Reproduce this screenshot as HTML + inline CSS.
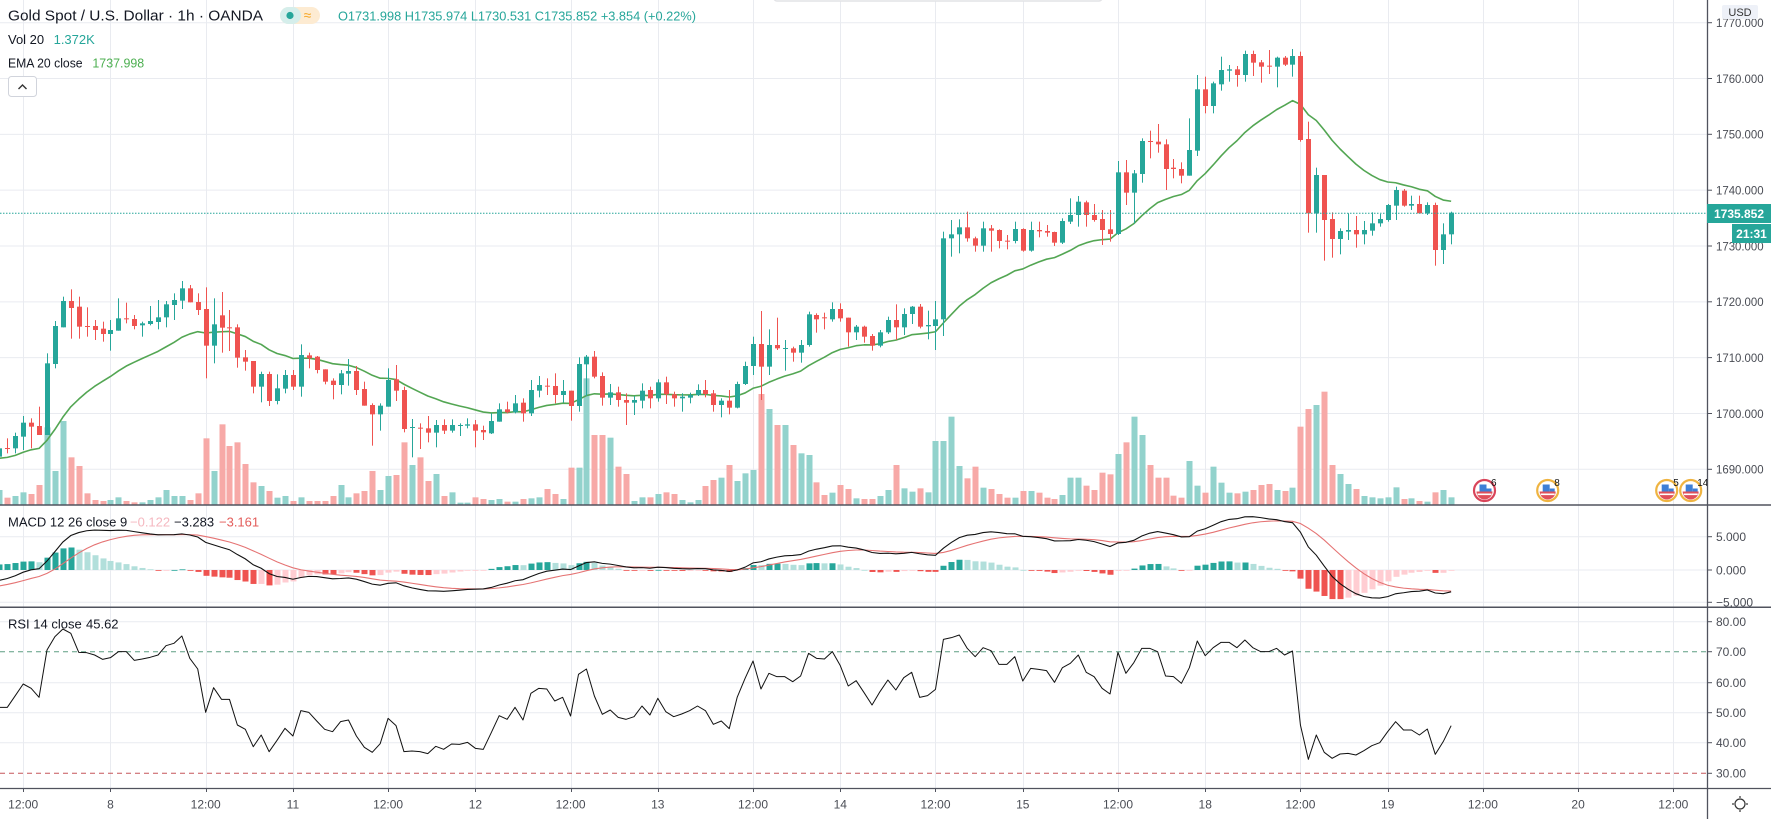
<!DOCTYPE html>
<html><head><meta charset="utf-8">
<style>
html,body{margin:0;padding:0;background:#fff;overflow:hidden;width:1771px;height:819px;}
svg{display:block;}
text{font-family:"Liberation Sans",Arial,sans-serif;}
</style></head>
<body>
<svg id="c" width="1771" height="819" viewBox="0 0 1771 819" xmlns="http://www.w3.org/2000/svg">
<defs>
<clipPath id="cm"><rect x="0" y="0" width="1707" height="505"/></clipPath>
<clipPath id="cd"><rect x="0" y="505" width="1707" height="102"/></clipPath>
<clipPath id="cr"><rect x="0" y="607" width="1707" height="181"/></clipPath>
</defs>
<rect x="0" y="0" width="1771" height="819" fill="#fff"/>
<g id="grid"></g>
<line x1="0" y1="651.7" x2="1707" y2="651.7" stroke="#5d9e82" stroke-width="1" stroke-dasharray="5,4"/>
<line x1="0" y1="773.3" x2="1707" y2="773.3" stroke="#c5565a" stroke-width="1" stroke-dasharray="5,4"/>
<g id="vol" clip-path="url(#cm)"></g>
<g id="ema" clip-path="url(#cm)"></g>
<g id="cnd" clip-path="url(#cm)"></g>
<g id="macd" clip-path="url(#cd)"></g>
<g id="rsi" clip-path="url(#cr)"></g>
<line x1="0" y1="213.3" x2="1707" y2="213.3" stroke="#26a69a" stroke-width="1" stroke-dasharray="1.5,1.5"/>

<!-- popup edge at top -->
<rect x="774" y="-12" width="328" height="13" fill="#fff" stroke="#e2e3e6" stroke-width="1.5" rx="3"/>

<!-- legends -->
<text x="8" y="20.5" font-size="15" fill="#131722" textLength="255" lengthAdjust="spacingAndGlyphs">Gold Spot / U.S. Dollar · 1h · OANDA</text>
<rect x="280" y="7" width="40" height="17" rx="8.5" fill="#fdebd2"/>
<rect x="280" y="7" width="21" height="17" rx="8.5" fill="#d5eeeb"/>
<circle cx="290" cy="15.5" r="3.6" fill="#26a69a"/>
<text x="307.5" y="20" font-size="14" fill="#f5a623" text-anchor="middle">≈</text>
<text x="338" y="20.5" font-size="13" fill="#26a69a" textLength="358" lengthAdjust="spacingAndGlyphs">O1731.998 H1735.974 L1730.531 C1735.852 +3.854 (+0.22%)</text>
<text x="8" y="44" font-size="13" fill="#131722">Vol 20</text>
<text x="53.6" y="44" font-size="13" fill="#26a69a">1.372K</text>
<text x="8" y="67.4" font-size="13" fill="#131722" textLength="74.6" lengthAdjust="spacingAndGlyphs">EMA 20 close</text>
<text x="92.4" y="67.4" font-size="13" fill="#4caf50" textLength="51.8" lengthAdjust="spacingAndGlyphs">1737.998</text>
<rect x="8.5" y="76.5" width="28" height="20" rx="3" fill="#fff" stroke="#d1d4dc"/>
<path d="M18.5,89 L22.5,85 L26.5,89" fill="none" stroke="#333" stroke-width="1.4"/>

<text x="8" y="526.5" font-size="13" fill="#131722">MACD 12 26 close 9</text>
<text x="130" y="526.5" font-size="13" fill="#f5b8c0">−0.122</text>
<text x="174" y="526.5" font-size="13" fill="#131722">−3.283</text>
<text x="219" y="526.5" font-size="13" fill="#e35d5b">−3.161</text>
<text x="8" y="628.5" font-size="13" fill="#131722">RSI 14 close</text>
<text x="86" y="628.5" font-size="13" fill="#131722">45.62</text>

<!-- event icons -->
<g id="ev"></g>

<!-- axes -->
<rect x="1708" y="0" width="63" height="788" fill="#fff"/>
<line x1="1707.5" y1="0" x2="1707.5" y2="819" stroke="#50535e" stroke-width="1.3"/>
<line x1="0" y1="505" x2="1771" y2="505" stroke="#50535e" stroke-width="1.5"/>
<line x1="0" y1="607.2" x2="1771" y2="607.2" stroke="#50535e" stroke-width="1.5"/>
<line x1="0" y1="788.5" x2="1771" y2="788.5" stroke="#50535e" stroke-width="1.3"/>
<g id="ticks" stroke="#50535e" stroke-width="1"></g>

<g font-size="12" fill="#4a4d55">
<text x="1716" y="27" textLength="47.6" lengthAdjust="spacingAndGlyphs">1770.000</text>
<text x="1716" y="82.8" textLength="47.6" lengthAdjust="spacingAndGlyphs">1760.000</text>
<text x="1716" y="138.6" textLength="47.6" lengthAdjust="spacingAndGlyphs">1750.000</text>
<text x="1716" y="194.5" textLength="47.6" lengthAdjust="spacingAndGlyphs">1740.000</text>
<text x="1716" y="250.3" textLength="47.6" lengthAdjust="spacingAndGlyphs">1730.000</text>
<text x="1716" y="306.1" textLength="47.6" lengthAdjust="spacingAndGlyphs">1720.000</text>
<text x="1716" y="361.9" textLength="47.6" lengthAdjust="spacingAndGlyphs">1710.000</text>
<text x="1716" y="417.8" textLength="47.6" lengthAdjust="spacingAndGlyphs">1700.000</text>
<text x="1716" y="473.6" textLength="47.6" lengthAdjust="spacingAndGlyphs">1690.000</text>
<text x="1716" y="541">5.000</text>
<text x="1716" y="574.3">0.000</text>
<text x="1716" y="606.6">−5.000</text>
<text x="1716" y="626">80.00</text>
<text x="1716" y="656">70.00</text>
<text x="1716" y="687">60.00</text>
<text x="1716" y="717">50.00</text>
<text x="1716" y="747">40.00</text>
<text x="1716" y="777.6">30.00</text>
</g>
<line x1="0" y1="607.2" x2="1771" y2="607.2" stroke="#50535e" stroke-width="1.5"/>

<rect x="1722" y="5" width="36" height="14" rx="2" fill="#eef1f8"/>
<text x="1740" y="16" font-size="11" fill="#333" text-anchor="middle">USD</text>
<rect x="1707" y="204" width="64" height="19" fill="#26a69a"/>
<text x="1739" y="218" font-size="12" font-weight="bold" fill="#fff" text-anchor="middle">1735.852</text>
<rect x="1732" y="224" width="39" height="19" fill="#26a69a"/>
<text x="1751.5" y="238" font-size="12" font-weight="bold" fill="#fff" text-anchor="middle">21:31</text>

<g font-size="12" fill="#4a4d55" text-anchor="middle">
<text x="23.2" y="808.5">12:00</text>
<text x="110.5" y="808.5">8</text>
<text x="205.7" y="808.5">12:00</text>
<text x="292.9" y="808.5">11</text>
<text x="388.1" y="808.5">12:00</text>
<text x="475.4" y="808.5">12</text>
<text x="570.6" y="808.5">12:00</text>
<text x="657.8" y="808.5">13</text>
<text x="753" y="808.5">12:00</text>
<text x="840.3" y="808.5">14</text>
<text x="935.5" y="808.5">12:00</text>
<text x="1022.8" y="808.5">15</text>
<text x="1118" y="808.5">12:00</text>
<text x="1205.2" y="808.5">18</text>
<text x="1300.4" y="808.5">12:00</text>
<text x="1387.7" y="808.5">19</text>
<text x="1482.9" y="808.5">12:00</text>
<text x="1578.1" y="808.5">20</text>
<text x="1673.3" y="808.5">12:00</text>
</g>
<g stroke="#333" stroke-width="1.2" fill="none">
<circle cx="1740" cy="804" r="5"/>
<line x1="1740" y1="796" x2="1740" y2="798"/><line x1="1740" y1="810" x2="1740" y2="812"/>
<line x1="1732" y1="804" x2="1734" y2="804"/><line x1="1746" y1="804" x2="1748" y2="804"/>
</g>
</svg>
<script>
(function(){
var NS='http://www.w3.org/2000/svg';
function el(tag,a,p){var e=document.createElementNS(NS,tag);for(var k in a)e.setAttribute(k,a[k]);p.appendChild(e);return e;}
function X(i){return -0.6+7.933*i;}
var A="1,625,650,615,660|0,624,627,595,640|1,588,625,578,640|1,548,590,528,630|0,548,560,535,625|0,558,585,500,585|1,370,585,340,585|1,258,372,243,385|1,183,262,170,262|0,183,204,148,296|0,200,260,170,296|0,258,261,202,290|0,258,270,240,300|0,266,282,245,305|1,270,282,240,332|1,235,272,175,272|0,235,238,188,250|0,237,258,225,268|1,250,256,245,290|1,243,252,198,256|1,232,246,180,268|1,193,232,183,262|1,180,195,160,240|1,145,182,123,207|0,145,187,135,187|0,186,210,160,225|0,207,317,142,415|1,253,317,175,370|0,226,263,156,338|0,262,265,210,333|0,262,353,253,383|0,352,365,330,392|0,363,440,363,460|1,402,440,395,487|0,402,483,395,498|1,445,483,403,493|1,405,446,390,460|0,405,440,390,450|1,345,440,313,470|0,346,355,338,385|0,350,390,348,400|0,388,425,388,433|0,422,435,415,478|1,400,435,390,463|1,393,401,357,437|0,393,450,378,465|0,447,497,425,497|0,495,523,490,617|1,497,523,490,572|1,420,500,385,500|0,418,452,375,483|0,450,567,440,577|1,561,564,537,652|0,563,566,550,627|0,565,578,528,607|1,555,578,540,622";
var B="0,735,752,718,762|1,735,752,718,758|1,735,738,730,768|1,733,737,715,745|0,733,752,720,802|0,750,757,737,780|1,723,760,700,762|1,688,725,670,725|0,688,697,665,700|1,670,697,645,700|0,668,700,655,725|1,630,700,600,708|1,615,632,588,652|0,617,620,595,645|0,618,645,580,670|1,633,645,600,668|0,632,678,632,722|1,552,678,532,695|1,530,553,525,648|0,530,590,513,595|0,588,653,577,677|1,637,653,612,675|0,637,660,620,680|0,660,668,640,735|1,660,668,648,705|1,632,662,610,685|0,630,655,620,685|1,607,655,598,665|0,607,643,590,672|0,643,655,635,680|1,650,655,640,695|1,645,653,638,670|1,630,645,613,648|0,630,642,600,652|0,640,675,630,695|1,662,675,655,712|0,662,683,630,703|1,612,683,605,685|1,558,612,545,615|1,492,558,470,585|0,492,560,393,660|1,495,560,448,585|0,495,505,413,510|1,504,507,480,572|0,505,518,500,545|1,495,518,480,548|1,403,495,395,500|0,405,418,400,458|0,412,415,398,448|1,387,418,367,425|0,387,415,370,425|0,413,457,413,500|1,440,457,435,480|0,440,470,437,488|0,468,497,462,512|1,457,497,450,502|1,420,457,410,462|0,420,442,373,480|1,402,442,385,465|1,380,402,378,432|0,380,440,372,445|1,435,439,392,478";
var C="1,868,888,813,960|1,625,868,605,918|1,613,625,570,680|1,592,613,568,670|0,592,625,545,635|0,625,647,620,665|1,595,647,575,665|0,595,602,585,665|0,600,633,598,655|0,632,635,615,658|1,597,633,575,640|0,597,662,595,665|1,600,662,575,665|0,600,604,575,622|0,603,608,585,620|0,606,638,605,648|1,573,638,565,642|1,555,575,505,582|1,515,555,498,590|0,517,555,512,590|0,555,570,522,575|0,567,600,540,645|0,598,612,540,635|1,427,612,393,615|0,427,488,390,525|1,430,488,420,580|1,333,432,325,458|0,333,336,302,385|0,335,343,282,368|0,343,417,328,480|0,413,417,387,445|0,417,437,397,460|1,360,437,265,437|1,178,362,135,378|0,178,228,140,250|1,160,228,155,250|1,120,163,80,182|1,118,122,105,155|0,118,135,108,170|1,72,135,62,155|0,72,98,62,138|0,97,110,90,158|0,107,110,60,132|1,83,110,80,172|0,83,104,78,108|1,78,104,57,140|0,78,330,65,335|0,327,550,275,608|1,435,550,413,608|0,435,570,435,692|0,567,627,547,683|1,603,627,595,673|1,600,605,550,630|0,600,613,558,653|1,600,613,573,643|1,580,602,547,617|1,567,580,552,590|1,525,570,522,575|1,480,527,470,570|0,482,527,477,530|1,522,527,497,540|0,522,550,497,550|1,525,550,517,555|0,525,660,518,707|1,613,660,580,702|1,548,613,545,643";
var bars=[];
function parse(s,off){s.split('|').forEach(function(t){var a=t.split(',').map(Number);bars.push({up:a[0]===1,bt:off+a[1]/3,bb:off+a[2]/3,wt:off+a[3]/3,wb:off+a[4]/3});});}
parse(A,240);parse(B,180);parse(C,30);
var VA=[750,773,768,757,762,735,562,693,543,652,678,760,780,783,780,772,783,787,787,780,772,750,768,768,780,760,595,693,553,618,607,672,727,738,753,773,768,783,772,783,783,783,768,735,772,760,753,693,750,708,705,607,675,652,723,702];
var VB=[948,937,968,968,952,957,960,957,965,965,957,955,952,927,942,957,863,863,595,765,765,773,860,882,963,952,952,942,937,942,960,967,960,918,900,893,855,903,880,870,642,687,735,735,795,820,825,907,945,938,915,927,955,957,957,948,930,855,925,935,925,937];
var VC=[1233,1233,1160,1308,1345,1310,1373,1377,1392,1403,1403,1383,1383,1388,1403,1407,1395,1343,1343,1367,1380,1328,1333,1272,1237,1160,1215,1305,1343,1343,1397,1403,1293,1367,1388,1310,1358,1388,1390,1385,1380,1365,1362,1380,1383,1373,1190,1137,1125,1085,1305,1332,1362,1377,1398,1402,1405,1402,1372,1407,1405,1413,1415,1387,1380,1402];
var vol=[];VA.forEach(function(v){vol.push(240+v/3);});VB.forEach(function(v){vol.push(180+v/3);});VC.forEach(function(v){vol.push(30+v/3);});
var R=[607,607,572,537,550,577,435,395,372,385,442,443,450,463,458,440,440,466,462,457,450,422,415,393,460,492,622,548,583,583,660,673,725,690,740,706,670,693,617,622,648,673,680,650,645,693,727,742,716,640,662,740,738,740,746,724,733,717,718,712,730,733,683,632,643,607,645,565,550,552,588,577,633,508,492,573,
628,615,637,643,635,603,630,580,620,635,627,617,603,617,658,648,671,577,520,468,552,505,515,515,530,513,445,460,462,440,482,543,527,563,600,560,525,555,518,502,577,572,553,403,398,390,430,455,428,437,478,478,455,528,490,493,497,532,488,475,450,502,515,550,567,442,505,473,430,430,440,513,515,535,488,
408,452,428,412,412,428,405,428,440,440,430,450,438,660,763,690,742,760,747,745,750,737,722,713,680,650,675,675,690,672,748,710,662];

var g=document.getElementById('grid');
var GC='#e9ebf0';
[3,14,26,37,49,60,72,83,95,106,118,129,141,152,164,175,187,199,211].forEach(function(i){var x=Math.round(X(i))+0.5;el('line',{x1:x,y1:0,x2:x,y2:788,stroke:GC,'stroke-width':1},g);});
for(var p=1770;p>=1690;p-=10){var y=22.7+(1770-p)*5.5825;el('line',{x1:0,y1:y,x2:1707,y2:y,stroke:GC,'stroke-width':1},g);}
[536.7,570,602.3,621.7,682.7,712.7,742.7].forEach(function(y){el('line',{x1:0,y1:y,x2:1707,y2:y,stroke:GC,'stroke-width':1},g);});

var tk=document.getElementById('ticks');
[22.7,78.5,134.3,190.2,246,301.8,357.6,413.5,469.3,536.7,570,602.3,621.7,651.7,682.7,712.7,742.7,773.3].forEach(function(y){el('line',{x1:1707,y1:y,x2:1712,y2:y},tk);});
[3,14,26,37,49,60,72,83,95,106,118,129,141,152,164,175,187,199,211].forEach(function(i){var x=Math.round(X(i))+0.5;el('line',{x1:x,y1:788,x2:x,y2:792},tk);});

var gv=document.getElementById('vol');
bars.forEach(function(b,i){var px=Math.round(X(i));var t=vol[i];if(t===undefined)return;el('rect',{x:px-2.5,y:t,width:6,height:505-t,fill:b.up?'#92d2cc':'#f7a9a7'},gv);});

var ge=document.getElementById('ema');
var ema=459.3,pts=[];
bars.forEach(function(b,i){var c=b.up?b.bt:b.bb;ema+=(2/21)*(c-ema);pts.push(X(i).toFixed(2)+','+ema.toFixed(2));});
el('polyline',{points:pts.join(' '),fill:'none',stroke:'#53a653','stroke-width':1.6,'stroke-linejoin':'round'},ge);

var gc=document.getElementById('cnd');
bars.forEach(function(b,i){var px=Math.round(X(i));var col=b.up?'#26a69a':'#ef5350';
el('rect',{x:px,y:b.wt,width:1,height:Math.max(b.wb-b.wt,1),fill:col},gc);
el('rect',{x:px-2,y:b.bt,width:5,height:Math.max(b.bb-b.bt,1),fill:col},gc);});

function P(y){return 1770-(y-22.7)/5.5825;}
var e12=1691.2,e26=1693.1,sig=-2.6,prev=null,mp=[],sp=[];
var gm=document.getElementById('macd');
var K=33.3/5;
bars.forEach(function(b,i){var c=P(b.up?b.bt:b.bb);e12+=(2/13)*(c-e12);e26+=(2/27)*(c-e26);var m=e12-e26;sig+=(2/10)*(m-sig);var h=m-sig;
var col;if(h>=0){col=(prev===null||h>prev)?'#26a69a':'#b2dfdb';}else{col=(prev===null||h<prev)?'#ef5350':'#ffcdd2';}
prev=h;var px=Math.round(X(i));var y0=570,y1=570-h*K;
el('rect',{x:px-2.5,y:Math.min(y0,y1),width:6,height:Math.max(Math.abs(y1-y0),0.8),fill:col},gm);
mp.push(X(i).toFixed(2)+','+(570-m*K).toFixed(2));sp.push(X(i).toFixed(2)+','+(570-sig*K).toFixed(2));});
el('polyline',{points:sp.join(' '),fill:'none',stroke:'#e57373','stroke-width':1.1},gm);
el('polyline',{points:mp.join(' '),fill:'none',stroke:'#111','stroke-width':1.1},gm);

var gr=document.getElementById('rsi');var rp=[];
R.forEach(function(v,i){rp.push(X(i).toFixed(2)+','+(505+v/3).toFixed(2));});
el('polyline',{points:rp.join(' '),fill:'none',stroke:'#111','stroke-width':1,'stroke-linejoin':'round'},gr);

var gev=document.getElementById('ev');
[[1484.5,'#d9455a','6'],[1547.7,'#efb441','8'],[1666.7,'#efb441','5'],[1690.7,'#efb441','14']].forEach(function(e){
var cx=e[0],cy=490.5;
el('circle',{cx:cx,cy:cy,r:10.5,fill:'#fff',stroke:e[1],'stroke-width':2.2},gev);
el('path',{d:'M'+(cx-8)+','+(cy+1)+' A8,8 0 0 0 '+(cx+8)+','+(cy+1)+' Z',fill:'#e0505a'},gev);
el('rect',{x:cx-7,y:cy+3,width:14,height:1.6,fill:'#fff'},gev);
el('rect',{x:cx-5,y:cy-6,width:7,height:7,fill:'#3d7fd6'},gev);
el('rect',{x:cx+2,y:cy-2,width:5,height:3,fill:'#3d7fd6'},gev);
var t=el('text',{x:cx+6.5,y:cy-4.5,'font-size':10,fill:'#111'},gev);t.textContent=e[2];
});
})();
</script>
</body></html>
